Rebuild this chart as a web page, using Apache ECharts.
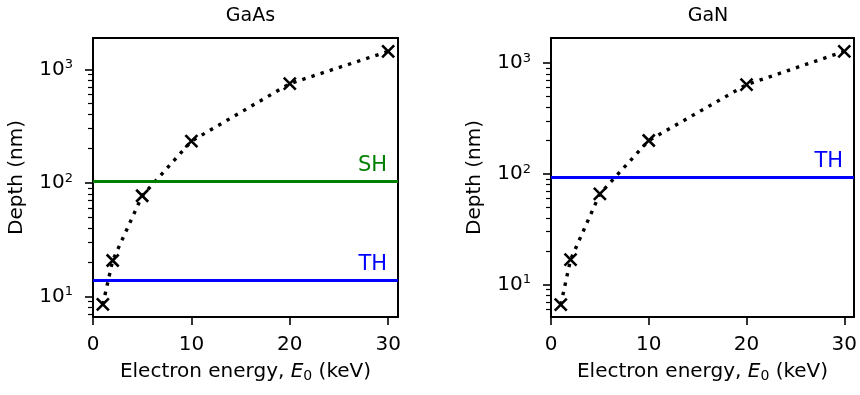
<!DOCTYPE html>
<html>
<head>
<meta charset="utf-8">
<script src="https://cdn.jsdelivr.net/npm/echarts@6/dist/echarts.min.js"></script>
<style>
html,body{margin:0;padding:0;background:#fff;}
#chart{width:860px;height:395px;}
</style>
</head>
<body>
<div id="chart"></div>
<script>
// Electron energy (keV)
const energy = [1, 2, 5, 10, 20, 30];
// Penetration depth (nm)
const depthGaAs = [8.5, 20.7, 77, 233, 748, 1440];
const depthGaN = [6.6, 16.8, 66, 200, 638, 1275];
// Reference depths
const gaAsSH = 104;
const gaAsTH = 13.8;
const gaNTH = 93;
const panelTitles = ['GaAs', 'GaN'];
const xTicks = [0, 10, 20, 30];
const yMajor = [10, 100, 1000];
const yMinor = [2,3,4,5,6,7,8,9,20,30,40,50,60,70,80,90,200,300,400,500,600,700,800,900,2000];

const FONT = 'DejaVu Sans';
const crossPath = 'path://M0,0L10,10M10,0L0,10';

function supLabel(v) {
  const e = Math.round(Math.log10(v));
  return '{b|10}{s|' + e + '}';
}

const grids = [
  {left: 93, top: 38, width: 305, height: 279},
  {left: 551, top: 38, width: 304, height: 279}
];
const yRanges = [[6.58, 1888], [5.1, 1683]];

const xAxes = [], yAxes = [], series = [], titles = [];
grids.forEach((g, i) => {
  xAxes.push({
    type: 'value', gridIndex: i, min: 0, max: 31, interval: 10,
    axisLine: {show: true, lineStyle: {color: '#000', width: 2}},
    axisTick: {show: true, inside: false, length: 8, lineStyle: {color: '#000', width: 1.6}, customValues: xTicks},
    axisLabel: {color: '#000', fontFamily: FONT, fontSize: 20, margin: 18, customValues: xTicks},
    splitLine: {show: false},
    name: '{n|Electron energy, }{i|E}{sub|0}{n| (keV)}',
    nameLocation: 'middle', nameGap: 44,
    nameTextStyle: {
      rich: {
        n: {fontFamily: FONT, fontSize: 20, color: '#000'},
        i: {fontFamily: FONT, fontSize: 20, color: '#000', fontStyle: 'italic'},
        sub: {fontFamily: FONT, fontSize: 14, color: '#000', padding: [8, 0, 0, 0]}
      }
    }
  });
  // top border
  xAxes.push({
    type: 'value', gridIndex: i, min: 0, max: 31, position: 'top',
    axisLine: {show: true, onZero: false, lineStyle: {color: '#000', width: 2}},
    axisTick: {show: false}, axisLabel: {show: false}, splitLine: {show: false}
  });
  const [ymin, ymax] = yRanges[i];
  yAxes.push({
    type: 'log', gridIndex: i, min: ymin, max: ymax, logBase: 10,
    axisLine: {show: true, onZero: false, lineStyle: {color: '#000', width: 2}},
    axisTick: {show: true, length: 8, lineStyle: {color: '#000', width: 1.6}, customValues: yMajor},
    axisLabel: {
      show: true, margin: 20, customValues: yMajor,
      formatter: supLabel,
      rich: {
        b: {fontFamily: FONT, fontSize: 20, color: '#000'},
        s: {fontFamily: FONT, fontSize: 13, color: '#000', padding: [0, 0, 9, 0]}
      }
    },
    splitLine: {show: false},
    name: 'Depth (nm)', nameLocation: 'middle', nameRotate: 90,
    nameGap: 66,
    nameTextStyle: {fontFamily: FONT, fontSize: 20, color: '#000'}
  });
  // minor ticks
  yAxes.push({
    type: 'log', gridIndex: i, min: ymin, max: ymax, logBase: 10, position: 'left',
    axisLine: {show: false},
    axisTick: {show: true, length: 5, lineStyle: {color: '#000', width: 1.2}, customValues: yMinor.filter(v => v > ymin && v < ymax)},
    axisLabel: {show: false}, splitLine: {show: false}
  });
  // right border
  yAxes.push({
    type: 'log', gridIndex: i, min: ymin, max: ymax, logBase: 10, position: 'right',
    axisLine: {show: true, onZero: false, lineStyle: {color: '#000', width: 2}},
    axisTick: {show: false}, axisLabel: {show: false}, splitLine: {show: false}
  });
  titles.push({
    text: panelTitles[i], left: g.left + g.width / 2, top: 2, textAlign: 'center',
    textStyle: {fontFamily: FONT, fontSize: 19, fontWeight: 'normal', color: '#000'}
  });
});

function hLine(value, color, label) {
  return {
    silent: true, symbol: 'none',
    lineStyle: {color: color, width: 3, type: 'solid'},
    label: {show: true, position: 'insideEndTop', formatter: label, color: color,
            fontFamily: FONT, fontSize: 21, distance: [11, 5]},
    data: [{yAxis: value}]
  };
}

const depthSets = [depthGaAs, depthGaN];
const refLines = [
  [[gaAsSH, '#008000', 'SH'], [gaAsTH, '#0000ff', 'TH']],
  [[gaNTH, '#0000ff', 'TH']]
];
depthSets.forEach((d, i) => {
  series.push({
    type: 'line', xAxisIndex: i * 2, yAxisIndex: i * 3,
    data: energy.map((e, k) => [e, d[k]]),
    symbol: 'none', z: 3,
    lineStyle: {color: '#000', width: 3.4, type: [3.4, 6.2], cap: 'butt'}
  });
  refLines[i].forEach(r => {
    series.push({
      type: 'line', xAxisIndex: i * 2, yAxisIndex: i * 3, data: [], z: 2,
      markLine: hLine(r[0], r[1], r[2])
    });
  });
  series.push({
    type: 'scatter', xAxisIndex: i * 2, yAxisIndex: i * 3,
    data: energy.map((e, k) => [e, d[k]]),
    symbol: crossPath, symbolSize: 12, z: 5,
    itemStyle: {color: 'none', borderColor: '#000', borderWidth: 2.6, opacity: 1}
  });
});

const chart = echarts.init(document.getElementById('chart'), null, {renderer: 'canvas'});
chart.setOption({
  animation: false,
  backgroundColor: '#fff',
  title: titles,
  grid: grids,
  xAxis: xAxes,
  yAxis: yAxes,
  series: series
});
</script>
</body>
</html>
